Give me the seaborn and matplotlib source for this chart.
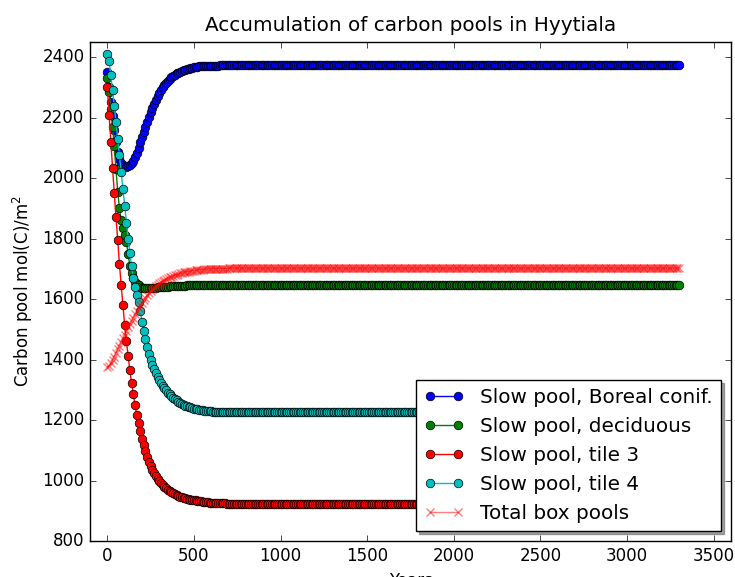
#!/usr/bin/env python3
# Carbon pool accumulation at Hyytiala, redrawn with seaborn

import numpy as np
import matplotlib
matplotlib.use("Agg")
import matplotlib.pyplot as plt
import seaborn as sns

# model years, one point every 10 years
years = np.arange(0, 3310, 10)

# values for 0..800 years, then the flat plateau up to 3300
slow_boreal = [
    2350, 2300, 2252, 2205, 2160, 2118, 2085, 2062, 2050, 2042,
    2039, 2038, 2039, 2042, 2049, 2058, 2070, 2084, 2100, 2118,
    2135, 2153, 2170, 2187, 2203, 2218, 2232, 2246, 2259, 2271,
    2282, 2292, 2301, 2309, 2316, 2322, 2328, 2333, 2338, 2342,
    2346, 2349, 2352, 2355, 2357, 2359, 2361, 2362, 2364, 2365,
    2366, 2367, 2368, 2369, 2369, 2370, 2370, 2371, 2371, 2371,
    2372, 2372, 2372, 2372, 2372, 2373, 2373, 2373, 2373, 2373,
    2373, 2373, 2373, 2373, 2373, 2373, 2373, 2373, 2373, 2373, 2373,
] + [2373] * 250

slow_deciduous = [
    2330, 2285, 2230, 2170, 2105, 2030, 1955, 1900, 1860, 1835,
    1812, 1790, 1748, 1710, 1685, 1668, 1658, 1650, 1645, 1641,
    1638, 1637, 1636, 1636, 1636, 1637, 1637, 1638, 1638, 1639,
    1639, 1640, 1640, 1641, 1641, 1641, 1642, 1642, 1642, 1643,
    1643, 1643, 1644, 1644, 1644, 1644, 1645, 1645, 1645, 1645,
    1645, 1646, 1646, 1646, 1646, 1646, 1646, 1646, 1647, 1647,
    1647, 1647, 1647, 1647, 1647, 1647, 1647, 1647, 1647, 1647,
    1647, 1647, 1647, 1647, 1647, 1647, 1647, 1647, 1647, 1647, 1647,
] + [1647] * 250

slow_tile3 = [
    2300, 2210, 2120, 2035, 1950, 1870, 1795, 1715, 1645, 1580,
    1515, 1460, 1412, 1365, 1322, 1285, 1250, 1218, 1190, 1163,
    1138, 1116, 1096, 1078, 1062, 1048, 1036, 1025, 1015, 1006,
    998, 991, 985, 979, 974, 969, 965, 961, 958, 955,
    952, 950, 947, 945, 943, 941, 940, 938, 937, 936,
    935, 934, 933, 932, 931, 930, 929, 928, 928, 927,
    927, 926, 926, 925, 925, 925, 924, 924, 924, 923,
    923, 923, 923, 923, 923, 923, 923, 923, 923, 923, 923,
] + [923] * 250

slow_tile4 = [
    2411, 2388, 2340, 2290, 2240, 2185, 2130, 2075, 2020, 1965,
    1908, 1852, 1800, 1752, 1708, 1670, 1640, 1615, 1590, 1560,
    1525, 1495, 1467, 1441, 1418, 1398, 1382, 1368, 1355, 1343,
    1332, 1322, 1313, 1305, 1298, 1291, 1285, 1279, 1274, 1269,
    1265, 1261, 1257, 1254, 1251, 1248, 1246, 1244, 1242, 1240,
    1238, 1237, 1235, 1234, 1233, 1232, 1231, 1230, 1230, 1229,
    1229, 1228, 1228, 1227, 1227, 1227, 1226, 1226, 1226, 1226,
    1226, 1225, 1225, 1225, 1225, 1225, 1225, 1225, 1225, 1225, 1225,
] + [1225] * 250

total_box = [
    1375, 1380, 1388, 1398, 1410, 1422, 1434, 1446, 1458, 1470,
    1482, 1494, 1506, 1518, 1528, 1538, 1549, 1559, 1569, 1579,
    1588, 1597, 1605, 1613, 1620, 1627, 1633, 1638, 1643, 1648,
    1652, 1656, 1660, 1663, 1666, 1669, 1672, 1674, 1676, 1679,
    1681, 1683, 1685, 1686, 1688, 1689, 1690, 1691, 1692, 1693,
    1694, 1695, 1696, 1696, 1697, 1697, 1698, 1698, 1699, 1699,
    1699, 1700, 1700, 1700, 1700, 1701, 1701, 1701, 1701, 1701,
    1702, 1702, 1702, 1702, 1702, 1702, 1702, 1702, 1702, 1702, 1702,
] + [1702] * 250

labels = ["Slow pool, Boreal conif.", "Slow pool, deciduous",
          "Slow pool, tile 3", "Slow pool, tile 4", "Total box pools"]


def main():
    plt.style.use("classic")
    plt.rcParams["mathtext.fontset"] = "dejavusans"
    plt.rcParams["font.family"] = ["DejaVu Sans"]

    fig = plt.figure(figsize=(7.35, 5.77), dpi=100, facecolor="white")
    ax = fig.add_axes([90 / 735, 36 / 577, 641 / 735, 499 / 577])

    pools = [slow_boreal, slow_deciduous, slow_tile3, slow_tile4]
    colors = ["b", "g", "r", "c"]
    for vals, col, lab in zip(pools, colors, labels[:4]):
        sns.lineplot(x=years, y=vals, ax=ax, color=col, marker="o",
                     markersize=6.2, markeredgecolor="k", markeredgewidth=0.5,
                     linewidth=1, label=lab)
    # seaborn gives markers a white edge by default, the crosses need red
    sns.lineplot(x=years, y=total_box, ax=ax, color="r", marker="x",
                 markersize=6, markeredgecolor="r", markeredgewidth=1,
                 linewidth=1, alpha=0.5, label=labels[4])

    ax.set_xlim(-100, 3600)
    ax.set_ylim(800, 2450)
    ax.set_xticks(range(0, 3501, 500))
    ax.set_yticks(range(800, 2401, 200))
    ax.set_title("Accumulation of carbon pools in Hyytiala", fontsize=14.4, pad=8)
    ax.set_xlabel("Years", fontsize=12)
    ax.set_ylabel("Carbon pool mol(C)/m$^2$", fontsize=12)

    ax.legend(loc="lower right", numpoints=2, fontsize=14.4,
              fancybox=False, shadow=True, frameon=True)

    fig.savefig("out.png", dpi=100, facecolor="white")


if __name__ == "__main__":
    main()
